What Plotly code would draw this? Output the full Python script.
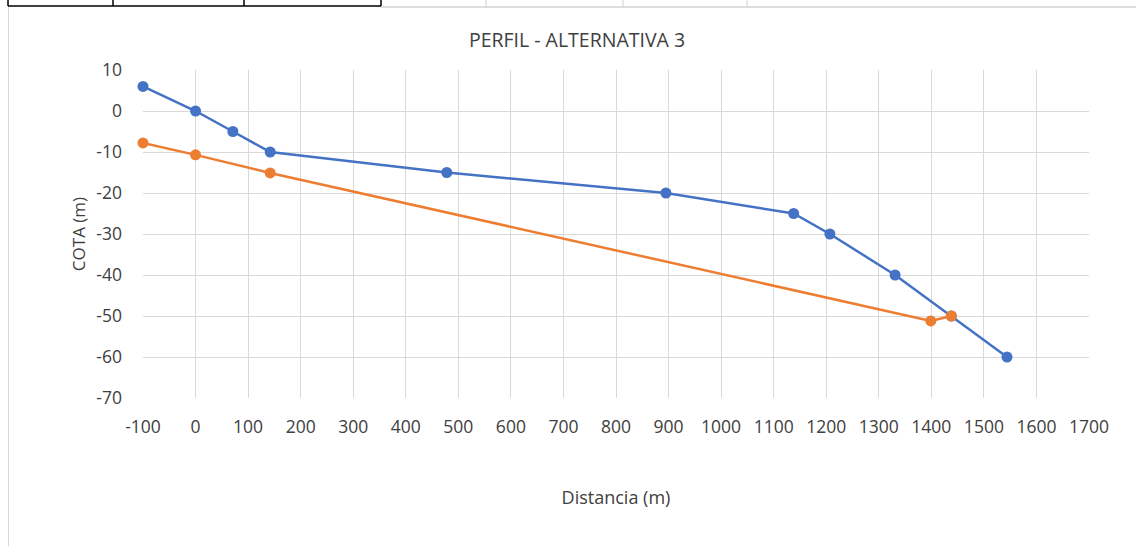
import plotly.graph_objects as go

# Data
blue_x = [-100, 0, 71, 142, 478, 895, 1138, 1207, 1331, 1438, 1544]
blue_y = [6, 0, -5, -10, -15, -20, -25, -30, -40, -50, -60]
orange_x = [-100, 0, 142, 1399, 1438]
orange_y = [-7.8, -10.7, -15.1, -51.2, -50]

x_ticks = list(range(-100, 1701, 100))
y_ticks = list(range(-70, 11, 10))

W, H = 1136, 546
L, R, T, B = 143, 1089, 70, 398

def px(xp):
    return (xp - L) / (R - L)

def py(yp):
    return (B - yp) / (B - T)

FONT = "Open Sans"
TXT = "#404040"
fig = go.Figure()
fig.add_trace(go.Scatter(x=blue_x, y=blue_y, mode="lines+markers", cliponaxis=False,
                         line=dict(color="#4472C4", width=2.5),
                         marker=dict(color="#4472C4", size=11), showlegend=False))
fig.add_trace(go.Scatter(x=orange_x, y=orange_y, mode="lines+markers", cliponaxis=False,
                         line=dict(color="#ED7D31", width=2.5),
                         marker=dict(color="#ED7D31", size=11), showlegend=False))

shapes = []
# spreadsheet fragment at top
for xp in [8, 113, 244, 381]:
    shapes.append(dict(type="line", xref="paper", yref="paper", x0=px(xp), x1=px(xp),
                       y0=py(-1), y1=py(6), line=dict(color="black", width=1.5)))
shapes.append(dict(type="line", xref="paper", yref="paper", x0=px(8), x1=px(381),
                   y0=py(6), y1=py(6), line=dict(color="black", width=1.5)))
for xp in [486, 623, 747]:
    shapes.append(dict(type="line", xref="paper", yref="paper", x0=px(xp), x1=px(xp),
                       y0=py(-1), y1=py(7), line=dict(color="#d0d0d0", width=1)))
shapes.append(dict(type="line", xref="paper", yref="paper", x0=px(381), x1=px(1140),
                   y0=py(7), y1=py(7), line=dict(color="#d0d0d0", width=1.5)))
# chart border left
shapes.append(dict(type="line", xref="paper", yref="paper", x0=px(8.5), x1=px(8.5),
                   y0=py(7), y1=py(550), line=dict(color="#d9d9d9", width=1)))

fig.update_layout(
    width=W, height=H,
    margin=dict(l=L, r=W - R, t=T, b=H - B),
    paper_bgcolor="white", plot_bgcolor="white",
    title=dict(text="PERFIL - ALTERNATIVA 3", xref="container", x=577 / W, xanchor="center",
               y=1 - 40 / H, yanchor="middle",
               font=dict(family=FONT, size=19.5, color=TXT)),
    font=dict(family=FONT, size=17, color=TXT),
    shapes=shapes,
)
fig.update_xaxes(range=[-100, 1700], tickvals=x_ticks, ticktext=[str(v) for v in x_ticks],
                 showgrid=True, gridcolor="#d9d9d9", gridwidth=1, zeroline=False,
                 showline=False, ticks="", ticklabelstandoff=16,
                 title=dict(text="Distancia (m)", standoff=54, font=dict(size=18, color=TXT)),
                 tickfont=dict(size=17.5, color=TXT))
fig.update_yaxes(range=[-70, 10], tickvals=y_ticks, ticktext=[str(v) for v in y_ticks],
                 showgrid=True, gridcolor="#d9d9d9", gridwidth=1, zeroline=False,
                 showline=False, ticks="", ticklabelstandoff=20,
                 title=dict(text="COTA (m)", standoff=6, font=dict(size=17, color=TXT)),
                 tickfont=dict(size=17.5, color=TXT))

fig.write_html("out.html", config={"displayModeBar": False},
               post_script="document.body.style.margin='0';document.body.style.padding='0';")
